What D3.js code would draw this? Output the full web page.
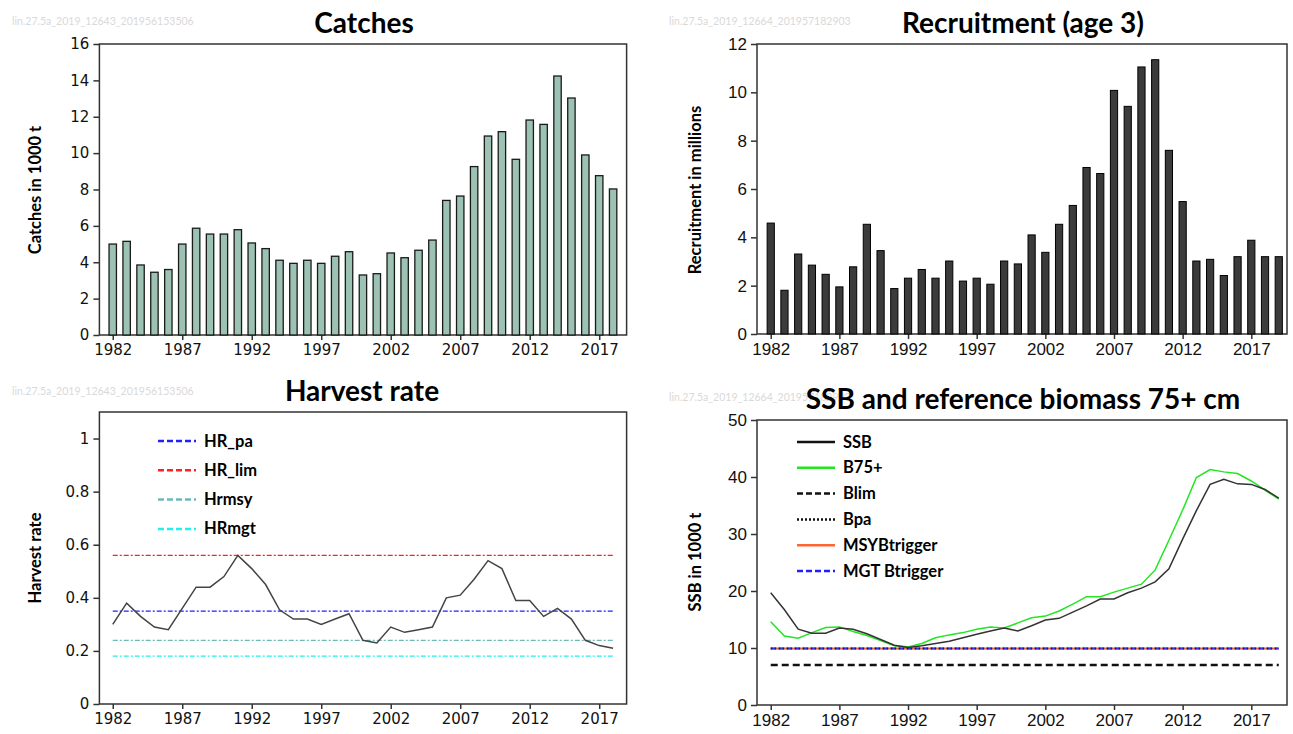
<!DOCTYPE html>
<html>
<head>
<meta charset="utf-8">
<script src="https://cdn.jsdelivr.net/npm/d3@7"></script>
<style>
  body { margin: 0; background: #fff; }
  svg { display: block; }
</style>
</head>
<body>
<svg width="1293" height="734"></svg>
<script>
// data
const years = [1982, 1983, 1984, 1985, 1986, 1987, 1988, 1989, 1990, 1991,
  1992, 1993, 1994, 1995, 1996, 1997, 1998, 1999, 2000, 2001,
  2002, 2003, 2004, 2005, 2006, 2007, 2008, 2009, 2010, 2011,
  2012, 2013, 2014, 2015, 2016, 2017, 2018, 2019];
const catchYears = years.slice(0, 37);

const catches = [5.0, 5.15, 3.85, 3.45, 3.6, 5.0, 5.87, 5.55, 5.55, 5.79,
  5.06, 4.75, 4.11, 3.94, 4.11, 3.94, 4.33, 4.58, 3.3, 3.37,
  4.51, 4.25, 4.66, 5.22, 7.4, 7.64, 9.26, 10.94, 11.18, 9.66,
  11.82, 11.58, 14.24, 13.03, 9.9, 8.76, 8.03];

const recruitment = [4.59, 1.81, 3.31, 2.85, 2.47, 1.95, 2.78, 4.54, 3.45, 1.88,
  2.31, 2.67, 2.31, 3.02, 2.19, 2.31, 2.06, 3.02, 2.9, 4.1,
  3.38, 4.54, 5.32, 6.89, 6.64, 10.08, 9.42, 11.05, 11.35, 7.6,
  5.48, 3.02, 3.09, 2.42, 3.2, 3.88, 3.2, 3.2];

const harvestRate = [0.3, 0.38, 0.33, 0.29, 0.28, 0.36, 0.44, 0.44, 0.48, 0.56,
  0.51, 0.45, 0.355, 0.32, 0.32, 0.3, 0.32, 0.34, 0.24, 0.23,
  0.29, 0.27, 0.28, 0.29, 0.4, 0.41, 0.47, 0.54, 0.51, 0.39,
  0.39, 0.33, 0.36, 0.32, 0.24, 0.22, 0.21];

const ssb = [19.7, 16.7, 13.3, 12.6, 12.6, 13.5, 13.3, 12.5, 11.5, 10.5,
  10.1, 10.4, 10.8, 11.2, 11.8, 12.4, 13.0, 13.5, 13.0, 13.9,
  14.9, 15.2, 16.3, 17.4, 18.6, 18.6, 19.7, 20.5, 21.6, 23.9,
  29.1, 34.1, 38.7, 39.6, 38.8, 38.7, 37.8, 36.3];

const b75 = [14.6, 12.1, 11.7, 12.7, 13.6, 13.7, 12.9, 12.2, 11.3, 10.4,
  10.2, 10.8, 11.8, 12.3, 12.7, 13.3, 13.7, 13.5, 14.4, 15.3,
  15.6, 16.5, 17.7, 19.0, 19.0, 19.8, 20.5, 21.2, 23.7, 28.9,
  34.2, 39.9, 41.3, 40.9, 40.6, 39.3, 37.7, 36.1];

const hrRefNames = ['HR_pa', 'HR_lim', 'Hrmsy', 'HRmgt'];
const hrRefValues = [0.35, 0.56, 0.24, 0.18];
const hrRefColors = ['#2020ff', '#ff2020', '#6fb8b8', '#20f0f0'];

const bRefNames = ['Blim', 'Bpa', 'MSYBtrigger', 'MGT Btrigger'];
const bRefValues = [7.0, 9.9, 9.9, 9.9];

const xTickYears = [1982, 1987, 1992, 1997, 2002, 2007, 2012, 2017];
const catchTicks = [0, 2, 4, 6, 8, 10, 12, 14, 16];
const recTicks = [0, 2, 4, 6, 8, 10, 12];
const hrTicks = [0, 0.2, 0.4, 0.6, 0.8, 1];
const ssbTicks = [0, 10, 20, 30, 40, 50];

const stamps = ['lin.27.5a_2019_12643_201956153506', 'lin.27.5a_2019_12664_201957182903',
  'lin.27.5a_2019_12643_201956153506', 'lin.27.5a_2019_12664_201957182903'];

const svg = d3.select('svg');
svg.append('rect').attr('width', 1293).attr('height', 734).attr('fill', '#fff');

const titleFont = 'Lato, "Open Sans", sans-serif';
const leftTickFont = '"DejaVu Sans", sans-serif';
const rightTickFont = '"Liberation Sans", Arial, sans-serif';

// scales
const xL = d3.scaleLinear().domain([1981.04, 2018.97]).range([99.4, 626.6]);
const xR = d3.scaleLinear().domain([1981, 2019.6]).range([757, 1287]);
const yCatch = d3.scaleLinear().domain([0, 16]).range([335, 44]);
const yRec = d3.scaleLinear().domain([0, 12]).range([334, 44]);
const yHr = d3.scaleLinear().domain([0, 1.1]).range([704, 412]);
const ySsb = d3.scaleLinear().domain([0, 50]).range([705, 420]);

function drawAxes(x, y, yTicks, font, fontSize, fmt) {
  const [x0, x1] = x.range();
  const [y1, y0] = y.range();
  svg.append('rect')
    .attr('x', x0).attr('y', y0)
    .attr('width', x1 - x0).attr('height', y1 - y0)
    .attr('fill', 'none').attr('stroke', '#333').attr('stroke-width', 1.5);

  const gx = svg.append('g')
    .attr('transform', `translate(0,${y1})`)
    .call(d3.axisBottom(x).tickValues(xTickYears).tickFormat(d3.format('d')).tickSize(5).tickPadding(4));
  const gy = svg.append('g')
    .attr('transform', `translate(${x0},0)`)
    .call(d3.axisLeft(y).tickValues(yTicks).tickFormat(fmt).tickSize(6).tickPadding(4));

  [gx, gy].forEach(g => {
    g.select('.domain').remove();
    g.selectAll('line').attr('stroke', '#333').attr('stroke-width', 1.5);
    g.selectAll('text')
      .attr('fill', '#111')
      .style('font-family', font)
      .style('font-size', fontSize + 'px');
  });
}

function title(text, cx, y) {
  svg.append('text')
    .attr('x', cx).attr('y', y)
    .attr('text-anchor', 'middle')
    .style('font-family', titleFont)
    .style('font-weight', 'bold')
    .style('font-size', '28px')
    .attr('fill', '#000')
    .text(text);
}

function yLabel(text, x, cy) {
  svg.append('text')
    .attr('transform', `translate(${x},${cy}) rotate(-90)`)
    .attr('text-anchor', 'middle')
    .style('font-family', titleFont)
    .style('font-weight', 'bold')
    .style('font-size', '16.5px')
    .attr('fill', '#000')
    .text(text);
}

// small grey stamps
const stampPos = [[12, 25], [669, 25], [12, 395], [669, 401]];
stamps.forEach((s, i) => {
  svg.append('text')
    .attr('x', stampPos[i][0]).attr('y', stampPos[i][1])
    .style('font-family', titleFont)
    .style('font-size', '10.5px')
    .attr('fill', '#d9d9d9')
    .text(s);
});

// ---- Catches
drawAxes(xL, yCatch, catchTicks, leftTickFont, 15, d3.format('d'));
svg.append('g')
  .selectAll('rect')
  .data(catches)
  .join('rect')
  .attr('x', (d, i) => xL(catchYears[i]) - 3.7)
  .attr('width', 7.4)
  .attr('y', d => yCatch(d))
  .attr('height', d => yCatch(0) - yCatch(d))
  .attr('fill', '#9cc2b3')
  .attr('stroke', '#1a1a1a')
  .attr('stroke-width', 1.3);
title('Catches', 364, 33);
yLabel('Catches in 1000 t', 41, 190);

// ---- Recruitment
drawAxes(xR, yRec, recTicks, rightTickFont, 17, d3.format('d'));
svg.append('g')
  .selectAll('rect')
  .data(recruitment)
  .join('rect')
  .attr('x', (d, i) => xR(years[i]) - 3.6)
  .attr('width', 7.2)
  .attr('y', d => yRec(d))
  .attr('height', d => yRec(0) - yRec(d))
  .attr('fill', '#3b3b3b')
  .attr('stroke', '#000')
  .attr('stroke-width', 1);
title('Recruitment (age 3)', 1023, 33);
yLabel('Recruitment in millions', 701, 190);

// ---- Harvest rate
drawAxes(xL, yHr, hrTicks, leftTickFont, 15, d3.format('~g'));
hrRefValues.forEach((v, i) => {
  svg.append('line')
    .attr('x1', xL(1982)).attr('x2', xL(2018))
    .attr('y1', yHr(v)).attr('y2', yHr(v))
    .attr('stroke', hrRefColors[i])
    .attr('stroke-width', 1.3)
    .attr('stroke-dasharray', '5,2,2,2');
});
svg.append('path')
  .datum(harvestRate)
  .attr('d', d3.line().x((d, i) => xL(catchYears[i])).y(d => yHr(d)))
  .attr('fill', 'none')
  .attr('stroke', '#444')
  .attr('stroke-width', 1.5);
const hrLegend = svg.append('g');
hrRefNames.forEach((n, i) => {
  const y = 441 + i * 29.3;
  hrLegend.append('line')
    .attr('x1', 158).attr('x2', 196).attr('y1', y).attr('y2', y)
    .attr('stroke', hrRefColors[i]).attr('stroke-width', 2.5)
    .attr('stroke-dasharray', '6,3');
  hrLegend.append('text')
    .attr('x', 204).attr('y', y + 5.5)
    .style('font-family', titleFont).style('font-weight', 'bold').style('font-size', '16.5px')
    .text(n);
});
title('Harvest rate', 362, 401);
yLabel('Harvest rate', 41, 558);

// ---- SSB
drawAxes(xR, ySsb, ssbTicks, rightTickFont, 17, d3.format('d'));
const bx1 = xR(1982), bx2 = xR(2019);
svg.append('line')
  .attr('x1', bx1).attr('x2', bx2).attr('y1', ySsb(bRefValues[0])).attr('y2', ySsb(bRefValues[0]))
  .attr('stroke', '#111').attr('stroke-width', 2.5).attr('stroke-dasharray', '7,4');
svg.append('line')
  .attr('x1', bx1).attr('x2', bx2).attr('y1', ySsb(bRefValues[2])).attr('y2', ySsb(bRefValues[2]))
  .attr('stroke', '#ff6633').attr('stroke-width', 2);
svg.append('line')
  .attr('x1', bx1).attr('x2', bx2).attr('y1', ySsb(bRefValues[3])).attr('y2', ySsb(bRefValues[3]))
  .attr('stroke', '#3030ff').attr('stroke-width', 2).attr('stroke-dasharray', '5,3');
svg.append('line')
  .attr('x1', bx1).attr('x2', bx2).attr('y1', ySsb(bRefValues[1])).attr('y2', ySsb(bRefValues[1]))
  .attr('stroke', '#222').attr('stroke-width', 2).attr('stroke-dasharray', '1.5,2.5');

svg.append('path')
  .datum(b75)
  .attr('d', d3.line().x((d, i) => xR(years[i])).y(d => ySsb(d)))
  .attr('fill', 'none').attr('stroke', '#22e622').attr('stroke-width', 1.5);
svg.append('path')
  .datum(ssb)
  .attr('d', d3.line().x((d, i) => xR(years[i])).y(d => ySsb(d)))
  .attr('fill', 'none').attr('stroke', '#333').attr('stroke-width', 1.5);

const ssbLegendNames = ['SSB', 'B75+'].concat(bRefNames);
const ssbLegendColors = ['#111', '#22e622', '#111', '#111', '#ff6633', '#2020ff'];
const ssbLegendDash = [null, null, '6,3', '2,2', null, '6,3'];
const ssbLegend = svg.append('g');
ssbLegendNames.forEach((n, i) => {
  const y = 442 + i * 25.8;
  ssbLegend.append('line')
    .attr('x1', 797).attr('x2', 835).attr('y1', y).attr('y2', y)
    .attr('stroke', ssbLegendColors[i]).attr('stroke-width', 2.5)
    .attr('stroke-dasharray', ssbLegendDash[i]);
  ssbLegend.append('text')
    .attr('x', 843).attr('y', y + 5.5)
    .style('font-family', titleFont).style('font-weight', 'bold').style('font-size', '16.5px')
    .text(n);
});
title('SSB and reference biomass 75+ cm', 1023, 409);
yLabel('SSB in 1000 t', 701, 562);
</script>
</body>
</html>
